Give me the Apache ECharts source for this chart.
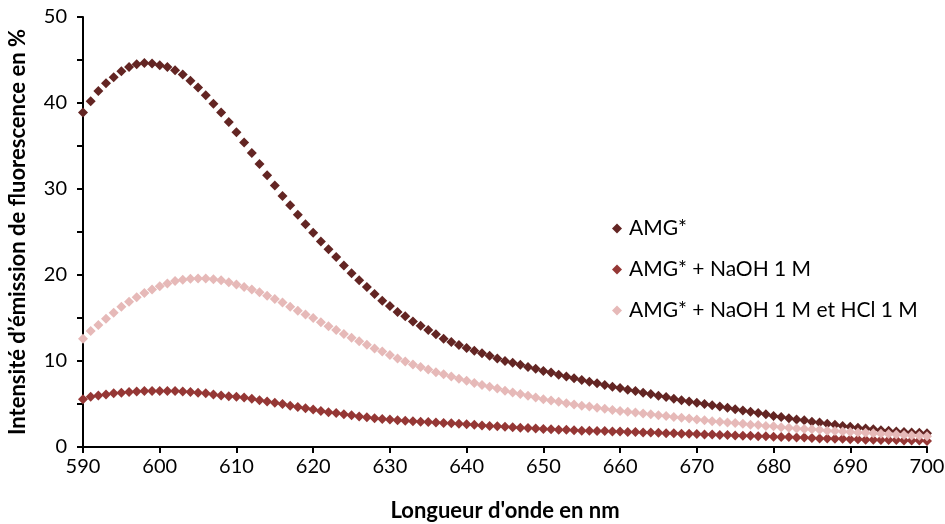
<!DOCTYPE html>
<html><head><meta charset="utf-8">
<script src="https://cdn.jsdelivr.net/npm/echarts@6/dist/echarts.min.js"></script>
<style>html,body{margin:0;padding:0;background:#fff}#c{width:945px;height:524px}</style>
</head><body><div id="c"></div>
<script>
const wavelengths = [590,591,592,593,594,595,596,597,598,599,600,601,602,603,604,605,606,607,608,609,
610,611,612,613,614,615,616,617,618,619,620,621,622,623,624,625,626,627,628,629,
630,631,632,633,634,635,636,637,638,639,640,641,642,643,644,645,646,647,648,649,
650,651,652,653,654,655,656,657,658,659,660,661,662,663,664,665,666,667,668,669,
670,671,672,673,674,675,676,677,678,679,680,681,682,683,684,685,686,687,688,689,
690,691,692,693,694,695,696,697,698,699,700];
const amg = [38.9,40.2,41.4,42.3,43.0,43.7,44.2,44.5,44.65,44.6,44.4,44.2,43.8,43.3,42.6,41.8,40.9,39.9,38.9,37.8,
36.6,35.4,34.2,32.9,31.6,30.4,29.2,28.1,27.0,25.9,24.9,23.9,23.0,22.1,21.1,20.2,19.4,18.6,17.8,17.0,
16.4,15.7,15.2,14.6,14.1,13.6,13.1,12.6,12.2,11.85,11.5,11.2,10.9,10.6,10.3,10.0,9.8,9.55,9.3,9.1,
8.85,8.65,8.4,8.2,8.0,7.8,7.6,7.4,7.2,7.0,6.85,6.65,6.5,6.3,6.15,5.95,5.8,5.6,5.45,5.3,
5.15,5.0,4.85,4.7,4.55,4.4,4.25,4.1,3.95,3.8,3.6,3.5,3.35,3.2,3.1,2.95,2.85,2.7,2.6,2.45,
2.35,2.25,2.15,2.05,1.95,1.9,1.8,1.75,1.7,1.65,1.6];
const amgNaOH = [5.55,5.85,6.0,6.1,6.25,6.3,6.4,6.45,6.5,6.5,6.5,6.5,6.5,6.45,6.4,6.3,6.25,6.1,6.0,5.9,
5.85,5.75,5.6,5.45,5.3,5.15,5.0,4.8,4.65,4.5,4.35,4.2,4.05,3.95,3.8,3.7,3.55,3.45,3.35,3.25,
3.2,3.1,3.05,3.0,2.95,2.9,2.85,2.8,2.75,2.7,2.65,2.6,2.5,2.45,2.4,2.35,2.3,2.25,2.2,2.15,
2.1,2.05,2.0,2.0,1.95,1.9,1.9,1.85,1.85,1.8,1.8,1.75,1.75,1.7,1.7,1.65,1.6,1.6,1.55,1.55,
1.5,1.45,1.45,1.4,1.4,1.35,1.3,1.3,1.25,1.25,1.2,1.15,1.15,1.1,1.1,1.05,1.0,1.0,0.95,0.95,
0.9,0.9,0.85,0.85,0.8,0.8,0.8,0.75,0.75,0.75,0.7];
const amgNaOHHCl = [12.6,13.5,14.2,14.9,15.6,16.3,16.9,17.4,17.9,18.3,18.7,19.0,19.3,19.45,19.55,19.6,19.6,19.5,19.4,19.15,
18.9,18.6,18.3,18.0,17.6,17.2,16.8,16.3,15.85,15.4,15.0,14.5,14.05,13.6,13.15,12.7,12.3,11.9,11.45,11.1,
10.7,10.3,9.95,9.6,9.3,9.0,8.7,8.45,8.2,7.95,7.7,7.45,7.2,7.0,6.8,6.55,6.35,6.15,5.95,5.75,
5.55,5.4,5.25,5.1,4.95,4.8,4.7,4.55,4.45,4.3,4.2,4.1,4.0,3.9,3.8,3.7,3.6,3.5,3.4,3.3,
3.2,3.1,3.0,2.95,2.85,2.8,2.7,2.6,2.55,2.45,2.4,2.3,2.25,2.15,2.1,2.05,2.0,1.9,1.85,1.8,
1.75,1.7,1.65,1.6,1.55,1.5,1.45,1.4,1.35,1.3,1.25];
const seriesNames = ['AMG*', 'AMG* + NaOH 1 M', 'AMG* + NaOH 1 M et HCl 1 M'];
const seriesColors = ['#632523', '#953735', '#E6B9B8'];
const seriesValues = [amg, amgNaOH, amgNaOHHCl];

const FONT = 'Lato, "Open Sans", sans-serif';
const chart = echarts.init(document.getElementById('c'));
chart.setOption({
  animation: false,
  backgroundColor: '#fff',
  textStyle: {fontFamily: FONT},
  grid: {left: 83, right: 18, top: 17, bottom: 77, containLabel: false, outerBoundsMode: 'none'},
  legend: {
    orient: 'vertical', left: 607, top: 213, itemGap: 20,
    icon: 'diamond', itemWidth: 10, itemHeight: 10, itemStyle: {opacity: 1},
    textStyle: {fontFamily: FONT, fontSize: 21, color: '#000', padding: [0, 0, 0, 2]},
    data: seriesNames
  },
  xAxis: {
    type: 'value', min: 590, max: 700, interval: 10,
    name: "Longueur d'onde en nm", nameLocation: 'middle', nameGap: 53,
    nameTextStyle: {fontFamily: FONT, fontSize: 22, fontWeight: 'bold', color: '#000'},
    axisLine: {lineStyle: {color: '#000', width: 2}},
    axisTick: {show: true, length: 6, lineStyle: {color: '#000', width: 2}},
    axisLabel: {color: '#000', fontSize: 20, margin: 10, fontFamily: FONT},
    splitLine: {show: false}
  },
  yAxis: {
    type: 'value', min: 0, max: 50, interval: 5,
    name: "Intensité d’émission de fluorescence en %", nameLocation: 'middle', nameGap: 54,
    nameTextStyle: {fontFamily: FONT, fontSize: 22, fontWeight: 'bold', color: '#000'},
    axisLine: {show: true, lineStyle: {color: '#000', width: 2}},
    axisTick: {show: true, length: 6, lineStyle: {color: '#000', width: 2}},
    axisLabel: {color: '#000', fontSize: 20, margin: 16, fontFamily: FONT,
      formatter: v => (v % 10 === 0 ? String(v) : '')},
    splitLine: {show: false}
  },
  series: seriesNames.map((n, i) => ({
    name: n, type: 'scatter', symbol: 'diamond', symbolSize: 10,
    itemStyle: {color: seriesColors[i], opacity: 1},
    data: wavelengths.map((w, j) => [w, seriesValues[i][j]])
  }))
});
</script></body></html>
